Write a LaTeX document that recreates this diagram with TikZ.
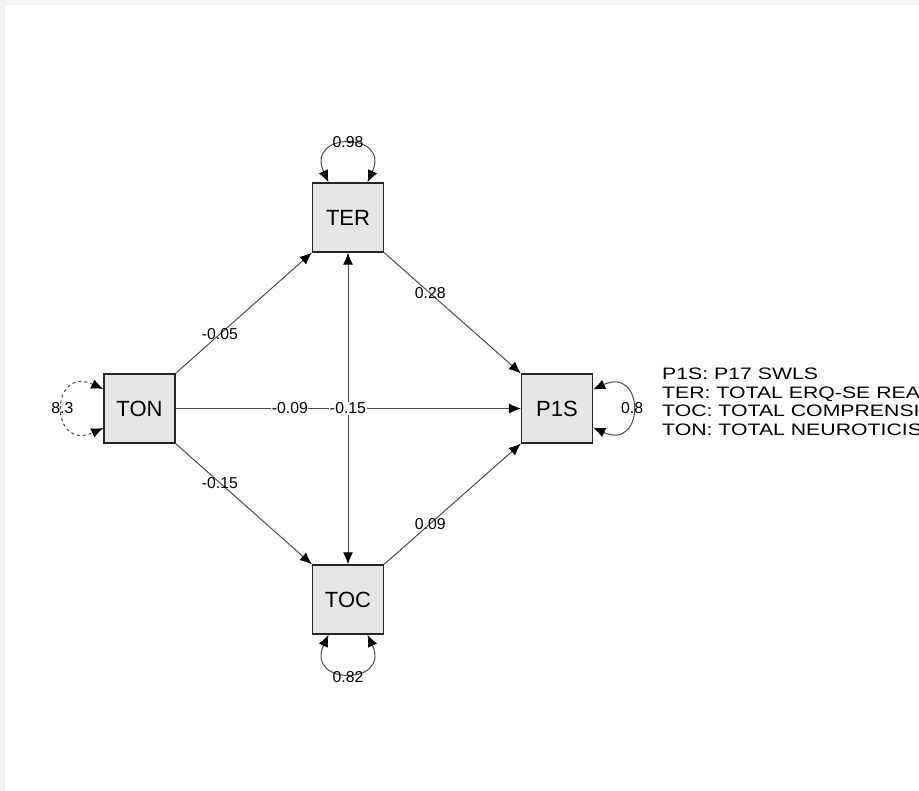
\documentclass[tikz,border=0pt]{standalone}
\usepackage{fontspec}
\usepackage{graphicx}
\setmainfont{Liberation Sans}
\usetikzlibrary{arrows.meta}
\definecolor{boxfill}{HTML}{E6E6E6}
\definecolor{edgec}{HTML}{4D4D4D}
\definecolor{framegray}{HTML}{F2F2F2}
\begin{document}
\begin{tikzpicture}[x=1pt,y=-1pt,
  var/.style={draw=black!85, line width=1.3pt, fill=boxfill, minimum width=71pt,
    minimum height=69pt, inner sep=0pt, font=\fontsize{22}{26}\selectfont},
  tipa/.tip={Latex[length=12pt,width=10pt,black]},
  conn/.style={draw=edgec, line width=1pt, -{tipa}},
  dconn/.style={draw=edgec, line width=1pt, {tipa}-{tipa}},
  elab/.style={font=\fontsize{15.8}{18}\selectfont, inner sep=0.5pt, text=black},
  leg/.style={anchor=base west, inner sep=0pt, font=\fontsize{16.6}{19}\selectfont}
]
\useasboundingbox (0,0) rectangle (919,791);
\clip (0,0) rectangle (919,791);
\fill[framegray] (0,0) rectangle (919,791);
\fill[white] (5,5) rectangle (919,791);

\node[var] (ter) at (348,217.5) {TER};
\node[var] (ton) at (139.5,408.5) {TON};
\node[var] (p1s) at (557,408.5) {P1S};
\node[var] (toc) at (348,599.5) {TOC};

% directed edges
\draw[conn] (ton.north east) -- node[elab, pos=0.325] {-0.05} (ter.south west);
\draw[conn] (ton.south east) -- node[elab, pos=0.325] {-0.15} (toc.north west);
\draw[conn] (ter.south east) -- node[elab, pos=0.337] {0.28} (p1s.north west);
\draw[conn] (toc.north east) -- node[elab, pos=0.337] {0.09} (p1s.south west);
\draw[conn] (ton.east) -- node[elab, pos=0.331, fill=white] {-0.09} (p1s.west);
\draw[dconn] (ter.south) -- node[elab, pos=0.5, fill=white] {-0.15} (toc.north);

% variance loops
\draw[dconn] ([xshift=-19.5pt]ter.north) .. controls ([xshift=-43pt,yshift=51pt]ter.north) and ([xshift=43pt,yshift=51pt]ter.north) .. ([xshift=19.5pt]ter.north);
\node[elab] (lter) at ([yshift=40pt]ter.north) {0.98};

\draw[dconn] ([xshift=-19.5pt]toc.south) .. controls ([xshift=-43pt,yshift=-51pt]toc.south) and ([xshift=43pt,yshift=-51pt]toc.south) .. ([xshift=19.5pt]toc.south);
\node[elab] (ltoc) at ([yshift=-42pt]toc.south) {0.82};

\draw[dconn, dashed] ([yshift=19.5pt]ton.west) .. controls ([xshift=-54pt,yshift=43.5pt]ton.west) and ([xshift=-54pt,yshift=-43.5pt]ton.west) .. ([yshift=-19.5pt]ton.west);
\node[elab] (lton) at ([xshift=-41pt]ton.west) {8.3};

\draw[dconn] ([yshift=19pt]p1s.east) .. controls ([xshift=52pt,yshift=43pt]p1s.east) and ([xshift=52pt,yshift=-43pt]p1s.east) .. ([yshift=-19pt]p1s.east);
\node[elab] (lp1s) at ([xshift=39pt]p1s.east) {0.8};

% legend
\node[leg] (leg1) at (662,380) {\scalebox{1.28}[1]{P1S: P17 SWLS}};
\node[leg] (leg2) at (662,398.5) {\scalebox{1.28}[1]{TER: TOTAL ERQ-SE REA}};
\node[leg] (leg3) at (662,417) {\scalebox{1.28}[1]{TOC: TOTAL COMPRENSI}};
\node[leg] (leg4) at (662,435.5) {\scalebox{1.28}[1]{TON: TOTAL NEUROTICIS}};
\end{tikzpicture}
\end{document}
